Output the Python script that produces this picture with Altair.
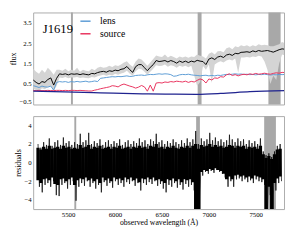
import altair as alt
import pandas as pd

FONT = "Liberation Serif"

wave = [5180, 5210, 5240, 5270, 5300, 5330, 5360, 5390, 5420, 5450,
        5480, 5510, 5540, 5570, 5600, 5630, 5660, 5690, 5720, 5750,
        5780, 5810, 5840, 5870, 5900, 5930, 5960, 5990, 6020, 6050,
        6080, 6110, 6140, 6170, 6200, 6230, 6260, 6290, 6320, 6350,
        6380, 6410, 6440, 6470, 6500, 6530, 6560, 6590, 6620, 6650,
        6680, 6710, 6740, 6770, 6800, 6830, 6860, 6890, 6920, 6950,
        6980, 7010, 7040, 7070, 7100, 7130, 7160, 7190, 7220, 7250,
        7280, 7310, 7340, 7370, 7400, 7430, 7460, 7490, 7520, 7550,
        7580, 7610, 7640, 7670, 7700, 7730, 7760]

model = [0.70, 0.58, 0.50, 0.62, 0.58, 0.72, 0.80, 0.45, 0.78, 1.00,
         0.97, 1.00, 0.95, 1.00, 0.98, 1.00, 0.96, 1.00, 0.97, 0.95,
         1.02, 1.00, 1.06, 1.10, 1.12, 1.08, 1.15, 1.12, 1.18, 1.15,
         1.22, 1.25, 1.36, 1.20, 1.07, 1.35, 1.45, 1.45, 1.30, 1.15,
         1.32, 1.45, 1.65, 1.60, 1.62, 1.65, 1.58, 1.65, 1.60, 1.52,
         1.62, 1.56, 1.62, 1.55, 1.62, 1.58, 1.66, 1.62, 1.60, 1.45,
         1.72, 1.78, 1.70, 1.82, 1.86, 1.80, 1.92, 1.96, 1.90, 2.00,
         1.98, 2.05, 2.06, 2.08, 2.05, 2.12, 2.08, 2.14, 2.10, 2.12,
         2.14, 2.10, 2.06, 2.12, 2.18, 2.22, 2.20]

lens = [0.42, 0.38, 0.33, 0.40, 0.36, 0.35, 0.40, 0.20, 0.58, 0.62,
        0.60, 0.62, 0.58, 0.62, 0.60, 0.63, 0.60, 0.62, 0.64, 0.60,
        0.62, 0.65, 0.62, 0.78, 0.80, 0.82, 0.84, 0.86, 0.85, 0.87,
        0.86, 0.88, 0.90, 0.87, 0.88, 0.92, 0.93, 0.94, 0.92, 0.95,
        0.97, 0.96, 0.98, 1.00, 0.98, 1.00, 0.99, 0.96, 0.88, 0.90,
        0.95, 0.97, 0.96, 0.98, 0.95, 0.93, 0.92, 0.90, 0.92, 0.93,
        0.90, 0.92, 0.90, 0.93, 0.92, 0.95, 0.97, 0.96, 0.98, 1.00,
        0.98, 0.99, 0.97, 0.98, 0.96, 0.97, 0.95, 0.97, 0.96, 0.98,
        0.96, 0.94, 0.96, 0.95, 0.97, 0.96, 0.97]

source = [0.18, 0.18, 0.19, 0.18, 0.18, 0.19, 0.18, 0.18, 0.19, 0.19,
          0.18, 0.19, 0.18, 0.19, 0.19, 0.18, 0.19, 0.18, 0.17, 0.16,
          0.16, 0.20, 0.23, 0.27, 0.30, 0.33, 0.36, 0.42, 0.40, 0.36,
          0.45, 0.50, 0.45, 0.40, 0.36, 0.30, 0.35, 0.43, 0.36, 0.15,
          0.45, 0.15, 0.55, 0.57, 0.55, 0.60, 0.58, 0.62, 0.60, 0.64,
          0.62, 0.60, 0.64, 0.58, 0.63, 0.60, 0.68, 0.75, 0.70, 0.55,
          0.75, 0.70, 0.80, 0.78, 0.86, 0.84, 0.95, 1.00, 0.92, 0.96,
          0.90, 0.95, 0.98, 0.95, 1.00, 0.97, 1.02, 0.98, 1.00, 1.03,
          1.00, 0.98, 1.02, 1.05, 1.03, 1.07, 1.06]

data_hi = [1.25, 1.10, 1.00, 1.20, 1.05, 1.30, 1.15, 0.95, 1.20, 1.20,
           1.15, 1.25, 1.12, 1.20, 1.15, 1.30, 1.10, 1.20, 1.15, 1.12,
           1.25, 1.18, 1.30, 1.35, 1.30, 1.32, 1.40, 1.33, 1.42, 1.38,
           1.45, 1.55, 1.62, 1.45, 1.35, 1.60, 1.75, 1.70, 1.55, 1.40,
           1.55, 1.72, 1.90, 1.85, 1.82, 1.95, 1.80, 1.88, 1.82, 1.75,
           1.85, 1.80, 1.85, 1.78, 1.85, 1.82, 1.95, 1.88, 1.85, 1.75,
           1.98, 2.05, 1.95, 2.10, 2.12, 2.05, 2.25, 2.30, 2.20, 2.35,
           2.30, 2.40, 2.35, 2.40, 2.32, 2.40, 2.35, 2.45, 2.40, 2.42,
           2.40, 2.35, 2.35, 2.40, 2.45, 2.55, 2.50]

data_lo = [0.30, 0.20, 0.15, 0.30, 0.25, 0.35, 0.40, 0.20, 0.40, 0.82,
           0.80, 0.85, 0.78, 0.82, 0.82, 0.85, 0.80, 0.82, 0.80, 0.78,
           0.85, 0.82, 0.88, 0.92, 0.95, 0.90, 0.96, 0.92, 1.00, 0.95,
           1.02, 1.05, 1.15, 1.00, 0.90, 1.12, 1.25, 1.22, 1.10, 0.95,
           1.10, 1.25, 1.42, 1.38, 1.40, 1.45, 1.35, 1.42, 1.38, 1.30,
           1.40, 1.35, 1.40, 1.32, 1.40, 0.90, 0.40, 0.60, 1.38, 1.20,
           1.45, 0.55, 1.45, 1.55, 1.62, 1.55, 1.65, 1.70, 1.65, 1.75,
           1.05, 1.80, 1.80, 1.82, 1.80, 1.85, 1.82, 1.88, 1.85, 1.60,
           1.20, 0.50, 0.90, 0.70, 1.50, 1.95, 1.90]

# residual extremes (spikes)
res_hi = [2.0, 1.6, 2.2, 1.9, 2.6, 1.8, 2.2, 2.4, 1.9, 2.7,
          2.1, 2.3, 1.9, 2.2, 2.0, 3.1, 2.2, 2.4, 3.2, 2.0,
          2.3, 2.1, 2.5, 1.9, 2.2, 2.4, 2.0, 2.3, 2.1, 2.5,
          1.9, 2.2, 2.4, 2.0, 2.3, 2.1, 2.6, 2.2, 2.4, 2.0,
          2.5, 2.3, 3.1, 2.2, 2.4, 2.0, 2.3, 2.1, 2.5, 2.2,
          2.0, 2.4, 2.1, 2.6, 2.2, 2.5, 3.4, 2.0, 2.6, 2.3,
          2.5, 3.2, 2.4, 2.7, 2.3, 2.5, 2.2, 2.4, 3.0, 2.5,
          2.2, 2.6, 2.3, 2.5, 2.0, 2.4, 2.1, 2.3, 2.0, 2.6,
          1.2, 0.8, 1.0, 0.6, 1.2, 1.8, 2.0]

res_lo = [-2.6, -3.2, -2.4, -2.2, -2.6, -2.0, -3.5, -3.6, -2.4, -2.2,
          -2.8, -2.4, -2.0, -4.1, -2.6, -2.2, -2.5, -2.0, -2.6, -2.2,
          -2.8, -2.4, -3.2, -2.1, -2.5, -2.2, -2.7, -2.0, -2.4, -2.2,
          -2.6, -2.1, -2.3, -2.0, -2.5, -2.2, -3.0, -2.2, -2.4, -2.1,
          -2.3, -2.0, -2.5, -2.3, -2.8, -3.2, -2.4, -2.6, -2.2, -2.7,
          -2.4, -2.9, -2.3, -2.6, -2.4, -3.0, -5.0, -5.0, -1.4, -1.0,
          -1.2, -0.9, -1.1, -0.8, -1.0, -1.2, -1.6, -2.6, -2.0, -2.6,
          -1.8, -1.7, -2.0, -1.8, -2.1, -1.9, -2.2, -1.8, -2.0, -2.1,
          -2.4, -5.0, -3.5, -5.0, -3.0, -2.2, -2.0]

# dense black core of the residuals
core_hi = [1.6, 1.4, 1.7, 1.5, 1.8, 1.5, 1.6, 1.7, 1.5, 1.8,
           1.6, 1.7, 1.5, 1.6, 1.5, 1.9, 1.6, 1.7, 1.9, 1.5,
           1.7, 1.6, 1.8, 1.5, 1.6, 1.7, 1.5, 1.7, 1.6, 1.8,
           1.5, 1.6, 1.7, 1.5, 1.7, 1.6, 1.8, 1.6, 1.7, 1.5,
           1.8, 1.7, 2.0, 1.6, 1.7, 1.5, 1.7, 1.6, 1.8, 1.6,
           1.5, 1.7, 1.6, 1.8, 1.6, 1.8, 2.0, 1.5, 1.9, 1.7,
           1.8, 2.0, 1.7, 1.9, 1.7, 1.8, 1.6, 1.7, 1.9, 1.8,
           1.6, 1.8, 1.7, 1.8, 1.5, 1.7, 1.6, 1.7, 1.5, 1.8,
           0.9, 0.5, 0.7, 0.4, 0.9, 1.4, 1.5]

core_lo = [-1.9, -2.2, -1.8, -1.7, -1.9, -1.6, -2.3, -2.4, -1.8, -1.7,
           -2.0, -1.8, -1.6, -2.4, -1.9, -1.7, -1.8, -1.6, -1.9, -1.7,
           -2.0, -1.8, -2.2, -1.6, -1.9, -1.7, -2.0, -1.6, -1.8, -1.7,
           -1.9, -1.6, -1.8, -1.6, -1.9, -1.7, -2.1, -1.7, -1.8, -1.6,
           -1.8, -1.6, -1.9, -1.8, -2.0, -2.2, -1.8, -1.9, -1.7, -2.0,
           -1.8, -2.1, -1.8, -1.9, -1.8, -2.1, -5.0, -5.0, -1.0, -0.8,
           -0.9, -0.7, -0.8, -0.6, -0.8, -0.9, -1.2, -1.8, -1.5, -1.8,
           -1.4, -1.3, -1.5, -1.4, -1.6, -1.5, -1.7, -1.4, -1.5, -1.6,
           -1.8, -5.0, -2.6, -5.0, -2.2, -1.7, -1.5]

cont_wave = [5180, 5500, 5800, 6000, 6300, 6600, 6850, 7100, 7400, 7760]
cont_flux = [0.15, 0.12, 0.08, 0.05, 0.02, 0.005, 0.0, 0.04, 0.13, 0.18]

mask_start = [5567, 6865, 7590]
mask_end = [5587, 6905, 7715]

series_names = ["lens", "source"]
series_colors = ["#5b9bd5", "#e8315c"]

x_ticks = [5500, 6000, 6500, 7000, 7500]
flux_ticks = [-0.5, 0.0, 0.5, 1.0, 1.5, 2.0, 2.5, 3.0, 3.5, 4.0]
res_ticks = [-4, -2, 0, 2, 4]

# ---- tables ----
spec_df = pd.DataFrame({"wave": wave, "model": model, "hi": data_hi, "lo": data_lo})
comp_df = pd.concat([
    pd.DataFrame({"wave": wave, "flux": lens, "comp": "lens"}),
    pd.DataFrame({"wave": wave, "flux": source, "comp": "source"}),
])
cont_df = pd.DataFrame({"wave": cont_wave, "flux": cont_flux})
mask_df = pd.DataFrame({"start": mask_start, "end": mask_end})
core_df = pd.DataFrame({"wave": wave, "hi": core_hi, "lo": core_lo})
half = (wave[1] - wave[0]) / 2
spike_rows = []
for w, h, l in zip(wave, res_hi, res_lo):
    spike_rows.append({"wave": w, "res": h})
    spike_rows.append({"wave": w + half, "res": l})
spike_df = pd.DataFrame(spike_rows)

W = 259
XDOM = [5180, 7750]

xs_top = alt.Scale(domain=XDOM, nice=False, zero=False)
ys_top = alt.Scale(domain=[-0.5, 4.0], nice=False, zero=False)

top_y_axis = alt.Axis(values=flux_ticks, format=".1f", title="flux", labelFlush=True,
                      ticks=False, domain=False, grid=False, labelPadding=2, titlePadding=2)

masks_top = alt.Chart(mask_df).mark_rect(color="#a8a8a8").encode(
    x=alt.X("start:Q", scale=xs_top, axis=None), x2="end:Q",
    y=alt.datum(-0.5, scale=ys_top, axis=top_y_axis), y2=alt.datum(4.0),
)
band = alt.Chart(spec_df).mark_area(color="#d4d4d4", clip=True).encode(
    x=alt.X("wave:Q", scale=xs_top, axis=None),
    y=alt.Y("lo:Q", scale=ys_top, axis=top_y_axis), y2="hi:Q",
)
model_line = alt.Chart(spec_df).mark_line(color="black", strokeWidth=1, clip=True).encode(
    x=alt.X("wave:Q", scale=xs_top, axis=None),
    y=alt.Y("model:Q", scale=ys_top, axis=top_y_axis),
)
comp_lines = alt.Chart(comp_df).mark_line(strokeWidth=1, clip=True).encode(
    x=alt.X("wave:Q", scale=xs_top, axis=None),
    y=alt.Y("flux:Q", scale=ys_top, axis=top_y_axis),
    color=alt.Color("comp:N", scale=alt.Scale(domain=series_names, range=series_colors),
                    legend=alt.Legend(orient="none", legendX=48, legendY=3, title=None,
                                      symbolType="stroke", symbolStrokeWidth=1.5,
                                      symbolSize=110, labelFont=FONT, labelFontSize=10,
                                      labelOffset=9, rowPadding=2, padding=0)),
)
cont_line = alt.Chart(cont_df).mark_line(color="#1f238f", strokeWidth=1.3, interpolate="monotone",
                                        clip=True).encode(
    x=alt.X("wave:Q", scale=xs_top, axis=None),
    y=alt.Y("flux:Q", scale=ys_top, axis=top_y_axis),
)
label = alt.Chart(pd.DataFrame({"t": ["J1619"]})).mark_text(
    font=FONT, fontSize=13, align="left", baseline="middle", color="black"
).encode(text="t:N", x=alt.value(10), y=alt.value(17))

top = alt.layer(masks_top, band, model_line, comp_lines, cont_line, label).properties(
    width=W, height=95)

xs_bot = alt.Scale(domain=XDOM, nice=False, zero=False)
ys_bot = alt.Scale(domain=[-5, 5], nice=False, zero=False)
bot_x_axis = alt.Axis(values=x_ticks, format="d", title="observed wavelength (Å)",
                      ticks=False, domain=False, grid=False, labelPadding=2, titlePadding=1)
bot_y_axis = alt.Axis(values=res_ticks, format="d", title="residuals",
                      ticks=False, domain=False, grid=False, labelPadding=2, titlePadding=2)

masks_bot = alt.Chart(mask_df).mark_rect(color="#a8a8a8").encode(
    x=alt.X("start:Q", scale=xs_bot, axis=bot_x_axis), x2="end:Q",
    y=alt.datum(-5, scale=ys_bot, axis=bot_y_axis), y2=alt.datum(5),
)
spikes = alt.Chart(spike_df).mark_line(color="#111111", strokeWidth=0.8, clip=True).encode(
    x=alt.X("wave:Q", scale=xs_bot, axis=bot_x_axis),
    y=alt.Y("res:Q", scale=ys_bot, axis=bot_y_axis),
)
core = alt.Chart(core_df).mark_bar(color="black", size=3.4, clip=True).encode(
    x=alt.X("wave:Q", scale=xs_bot, axis=bot_x_axis),
    y=alt.Y("lo:Q", scale=ys_bot, axis=bot_y_axis), y2="hi:Q",
)
bottom = alt.layer(masks_bot, spikes, core).properties(width=W, height=96)

chart = alt.vconcat(top, bottom, spacing=10).properties(
    padding={"left": 0, "top": 0, "right": 0, "bottom": 0}, background="white"
).configure_view(stroke="#aaaaaa", strokeWidth=1).configure_axis(
    labelFont=FONT, titleFont=FONT, labelFontSize=7, titleFontSize=8,
    labelColor="black", titleColor="black", titleFontWeight="normal"
)

chart.save("out.html", embed_options={"renderer": "svg", "actions": False})
